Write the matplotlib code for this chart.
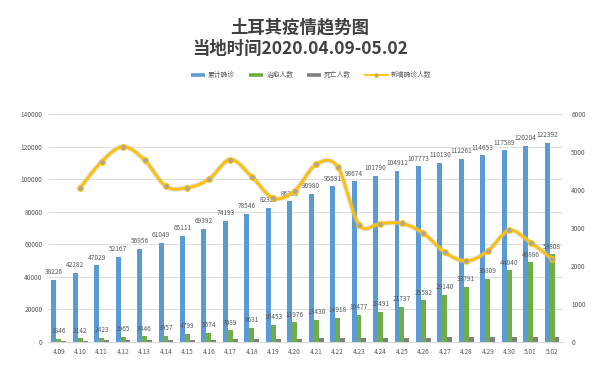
import numpy as np
import matplotlib
matplotlib.use("Agg")
import matplotlib.pyplot as plt
from matplotlib.lines import Line2D

plt.rcParams['font.family'] = ['Noto Sans CJK SC', 'DejaVu Sans']

dates = ["4.09", "4.10", "4.11", "4.12", "4.13", "4.14", "4.15", "4.16", "4.17", "4.18",
         "4.19", "4.20", "4.21", "4.22", "4.23", "4.24", "4.25", "4.26", "4.27", "4.28",
         "4.29", "4.30", "5.01", "5.02"]
confirmed = [38226, 42282, 47029, 52167, 56956, 61049, 65111, 69392, 74193, 78546,
             82329, 86306, 90980, 95591, 98674, 101790, 104912, 107773, 110130, 112261,
             114653, 117589, 120204, 122392]
recovered = [1846, 2142, 2423, 2965, 3446, 3957, 4799, 5674, 7089, 8631,
             10453, 11976, 13430, 14918, 16477, 18491, 21737, 25582, 29140, 33791,
             38809, 44040, 48886, 53808]
deaths = [812, 908, 1006, 1101, 1198, 1296, 1403, 1518, 1643, 1769,
          1890, 2017, 2140, 2259, 2376, 2491, 2600, 2706, 2805, 2900,
          2992, 3081, 3174, 3258]
new_cases = [None, 4056, 4747, 5138, 4789, 4093, 4062, 4281, 4801, 4353,
             3783, 3977, 4674, 4611, 3083, 3116, 3122, 2861, 2357, 2131,
             2392, 2936, 2615, 2188]
legend_labels = ["累计确诊", "治愈人数", "死亡人数", "新增确诊人数"]

C_BLUE = "#5B9BD5"
C_GREEN = "#70AD47"
C_GRAY = "#7F7F7F"
C_GOLD = "#FFC000"
C_TXT = "#595959"

fig = plt.figure(figsize=(6.0, 3.68), dpi=100)
ax = fig.add_axes([0.08, 0.0707, 0.858, 0.6196])
ax2 = ax.twinx()

x = np.arange(len(dates))
w = 0.23
ax.bar(x - w, confirmed, w, color=C_BLUE, zorder=2)
ax.bar(x, recovered, w, color=C_GREEN, zorder=2)
ax.bar(x + w, deaths, w, color=C_GRAY, zorder=2)

for xi, v in zip(x, confirmed):
    ax.text(xi - w, v + 2300, str(v), ha='center', va='bottom', fontsize=4.7, color=C_TXT, zorder=5)
for xi, v in zip(x, recovered):
    ax.text(xi, v + 2300, str(v), ha='center', va='bottom', fontsize=4.7, color=C_TXT, zorder=5)

ax.set_ylim(0, 140000)
ax.set_yticks(np.arange(0, 140001, 20000))
ax.set_xlim(-0.5, len(dates) - 0.5)
ax.set_xticks(x)
ax.set_xticklabels(dates)
ax.grid(axis='y', color='#D9D9D9', linewidth=0.6, zorder=0)
ax.set_axisbelow(True)
for s in ['top', 'right', 'left']:
    ax.spines[s].set_visible(False)
ax.spines['bottom'].set_color('#D9D9D9')
ax.tick_params(axis='both', length=0, labelsize=4.7, labelcolor=C_TXT, pad=4)

# smoothed line (Excel-style bezier through the data points)
pts_x = np.array([xi for xi, v in zip(x, new_cases) if v is not None], dtype=float)
pts_y = np.array([v for v in new_cases if v is not None], dtype=float)
n = len(pts_x)
cx, cy = [], []
t = np.linspace(0, 1, 20)
for i in range(n - 1):
    p0 = np.array([pts_x[max(i - 1, 0)], pts_y[max(i - 1, 0)]])
    p1 = np.array([pts_x[i], pts_y[i]])
    p2 = np.array([pts_x[i + 1], pts_y[i + 1]])
    p3 = np.array([pts_x[min(i + 2, n - 1)], pts_y[min(i + 2, n - 1)]])
    c1 = p1 + (p2 - p0) / 6.0
    c2 = p2 - (p3 - p1) / 6.0
    for tt in t:
        b = ((1 - tt) ** 3) * p1 + 3 * ((1 - tt) ** 2) * tt * c1 + 3 * (1 - tt) * tt ** 2 * c2 + tt ** 3 * p2
        cx.append(b[0]); cy.append(b[1])
ax2.plot(cx, cy, color='#BFBFBF', linewidth=3.6, alpha=0.5, zorder=3, solid_capstyle='round')
ax2.plot(cx, cy, color=C_GOLD, linewidth=2.0, zorder=4, solid_capstyle='round')
ax2.plot(pts_x, pts_y, linestyle='none', marker='o', markersize=4,
         markerfacecolor='#A5A5A5', markeredgecolor=C_GOLD, markeredgewidth=0.8, zorder=5)

ax2.set_ylim(0, 6000)
ax2.set_yticks(np.arange(0, 6001, 1000))
for s in ['top', 'right', 'left', 'bottom']:
    ax2.spines[s].set_visible(False)
ax2.tick_params(axis='y', length=0, labelsize=4.7, labelcolor=C_TXT, pad=6)

fig.text(0.5, 0.925, "土耳其疫情趋势图", ha='center', va='center', fontsize=12.5,
         fontweight='bold', color='#404040')
fig.text(0.5, 0.868, "当地时间2020.04.09-05.02", ha='center', va='center', fontsize=12.5,
         fontweight='bold', color='#404040')

# legend drawn manually (figure pixel positions converted to fractions)
W, H = 600.0, 368.0
ly = 1 - 75 / H
items = [(191, 205, 208, C_BLUE, False), (249, 263, 267, C_GREEN, False),
         (307, 321, 324, C_GRAY, False), (365, 388, 391, C_GOLD, True)]
for (x0, x1, xt, col, is_line), lab in zip(items, legend_labels):
    if is_line:
        fig.add_artist(Line2D([x0 / W, x1 / W], [ly, ly], color=col, linewidth=1.3))
        fig.add_artist(Line2D([(x0 + x1) / 2 / W], [ly], marker='o', markersize=2.8,
                              markerfacecolor='#A5A5A5', markeredgecolor=col,
                              markeredgewidth=0.6, linestyle='none'))
    else:
        fig.add_artist(Line2D([x0 / W, x1 / W], [ly, ly], color=col, linewidth=2.6,
                              solid_capstyle='butt'))
    fig.text(xt / W, ly, lab, ha='left', va='center', fontsize=4.9, color=C_TXT)

fig.savefig("out.png", dpi=100)
